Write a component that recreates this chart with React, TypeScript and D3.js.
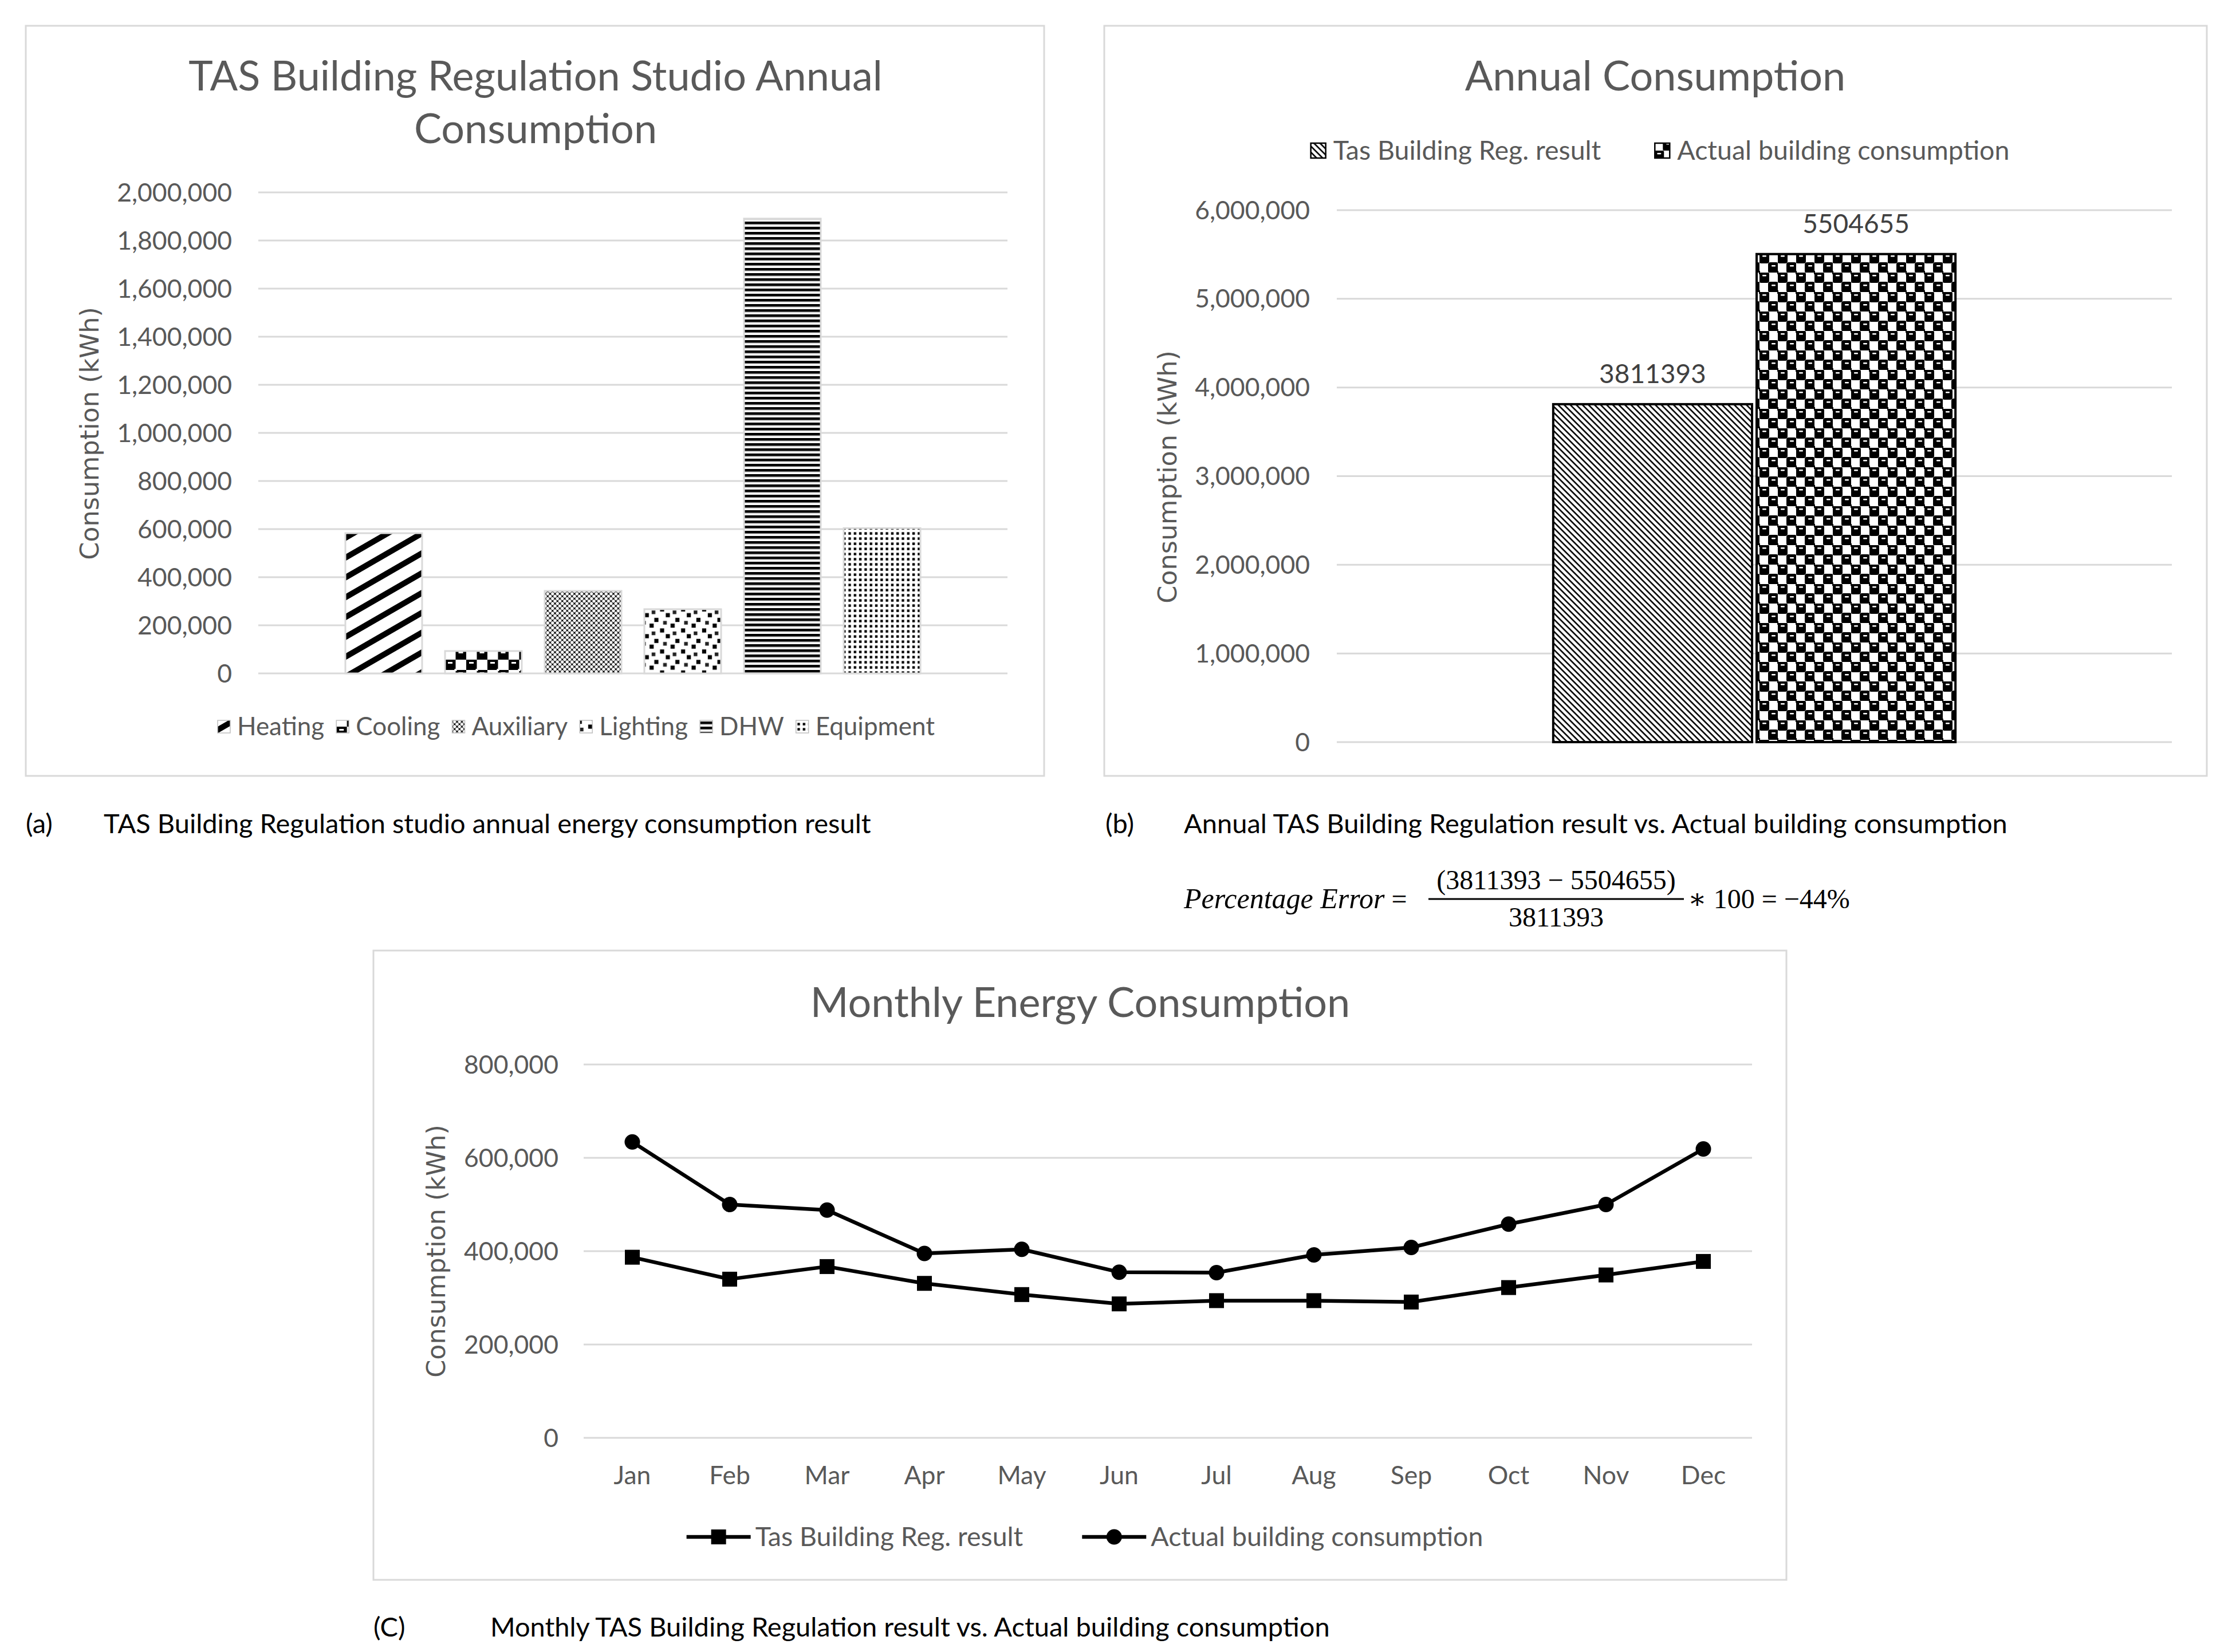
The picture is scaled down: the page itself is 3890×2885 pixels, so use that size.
import React, { useEffect, useRef } from "react";
import * as d3 from "d3";

// ---------- DATA ----------
const endUses = ["Heating", "Cooling", "Auxiliary", "Lighting", "DHW", "Equipment"];
const endUseValues = [583000, 93000, 343000, 267000, 1891000, 604000];
const endUsePatterns = ["pHeat", "pCool", "pAux", "pLight", "pDhw", "pEquip"];
const ticksA = [0, 200000, 400000, 600000, 800000, 1000000, 1200000, 1400000, 1600000, 1800000, 2000000];

const annualSeries = ["Tas Building Reg. result", "Actual building consumption"];
const annualValues = [3811393, 5504655];
const annualPatterns = ["pTas", "pActual"];
const ticksB = [0, 1000000, 2000000, 3000000, 4000000, 5000000, 6000000];

const months = ["Jan", "Feb", "Mar", "Apr", "May", "Jun", "Jul", "Aug", "Sep", "Oct", "Nov", "Dec"];
const tasMonthly = [387000, 340000, 367000, 331000, 307000, 287000, 294000, 294000, 291000, 322000, 349000, 378000];
const actualMonthly = [634000, 500000, 488000, 395000, 404000, 355000, 354000, 392000, 408000, 458000, 500000, 619000];
const ticksC = [0, 200000, 400000, 600000, 800000];

// ---------- STYLE ----------
const W = 3890;
const H = 2885;
const FONT = "Lato, 'Open Sans', sans-serif";
const AXT_FONT = "'DejaVu Sans', Verdana, sans-serif";
const SERIF = "'Liberation Serif', 'DejaVu Serif', serif";
const GRAY = "#595959";
const GRID = "#d9d9d9";
const TITLE_SIZE = 72;
const TICK_SIZE = 44.5;
const AXT_SIZE = 44.5;
const CAP_SIZE = 47;
const fmt = d3.format(",");

function Patterns() {
  const lightBlack: [number, number][] = [[8.3, 18.3], [0, 28.3], [36.7, 28.3], [18.3, 0], [18.3, 36.7], [28.3, 10]];
  const lightGray: [number, number][] = [[23.3, 23.3], [3.3, 5]];
  return (
    <defs>
      <pattern id="pHeat" patternUnits="userSpaceOnUse" width={30} height={30} patternTransform="rotate(-30)">
        <rect width={30} height={30} fill="#fff" />
        <rect width={30} height={10} fill="#000" />
      </pattern>
      <pattern id="pCool" patternUnits="userSpaceOnUse" width={37} height={36}>
        <rect width={37} height={36} fill="#fff" />
        <rect x={0} y={0} width={18.5} height={18} fill="#000" />
        <rect x={18.5} y={18} width={18.5} height={18} fill="#000" />
        <rect x={5} y={4} width={8} height={3} fill="#fff" />
        <rect x={23.5} y={22} width={8} height={3} fill="#fff" />
        <rect x={16.5} y={16} width={4} height={4} fill="#fff" />
      </pattern>
      <pattern id="pAux" patternUnits="userSpaceOnUse" width={8.5} height={8.5}>
        <rect width={8.5} height={8.5} fill="#fff" />
        <path d="M0,0L8.5,8.5M8.5,0L0,8.5" stroke="#555" strokeWidth={1.2} />
        {[[0, 0], [8.5, 0], [0, 8.5], [8.5, 8.5], [4.25, 4.25]].map(([x, y], i) => (
          <rect key={i} x={x - 1.4} y={y - 1.4} width={2.8} height={2.8} fill="#000" />
        ))}
      </pattern>
      <pattern id="pLight" patternUnits="userSpaceOnUse" width={36.7} height={36.7}>
        <rect width={36.7} height={36.7} fill="#fff" />
        {lightBlack.map(([x, y], i) => (
          <rect key={"b" + i} x={x - 3.6} y={y - 3.6} width={7.2} height={7.2} fill="#000" />
        ))}
        {lightGray.map(([x, y], i) => (
          <rect key={"g" + i} x={x - 3.2} y={y - 3.2} width={6.4} height={6.4} fill="#222" />
        ))}
      </pattern>
      <pattern id="pDhw" patternUnits="userSpaceOnUse" width={10} height={9}>
        <rect width={10} height={9} fill="#fff" />
        <rect y={0} width={10} height={4.6} fill="#000" />
        <rect y={4.6} width={10} height={0.8} fill="#888" />
      </pattern>
      <pattern id="pEquip" patternUnits="userSpaceOnUse" width={9.3} height={9}>
        <rect width={9.3} height={9} fill="#fff" />
        <rect x={2.6} y={2.4} width={4.4} height={4.4} fill="#000" />
      </pattern>
      <pattern id="pTas" patternUnits="userSpaceOnUse" width={7.5} height={7.5} patternTransform="rotate(45)">
        <rect width={7.5} height={7.5} fill="#fff" />
        <rect width={7.5} height={2.6} fill="#000" />
      </pattern>
      <pattern id="pActual" patternUnits="userSpaceOnUse" width={32} height={34}>
        <rect width={32} height={34} fill="#fff" />
        <rect x={-1} y={-1} width={18} height={19} rx={4} fill="#000" />
        <rect x={15} y={16} width={18} height={19} rx={4} fill="#000" />
        <rect x={31} y={-1} width={4} height={4} fill="#000" />
        <rect x={-3} y={31} width={4} height={4} fill="#000" />
        <rect x={5} y={4} width={7} height={2.6} rx={1} fill="#fff" />
        <rect x={21} y={21} width={7} height={2.6} rx={1} fill="#fff" />
      </pattern>
    </defs>
  );
}

type LegendOpts = {
  cx: number;
  cy: number;
  keyW: number;
  gap: number;
  itemGap: number;
  fontSize: number;
  key: (g: any, d: any, i: number) => void;
};

function layoutLegend(g: any, data: any[], o: LegendOpts) {
  g.selectAll("*").remove();
  const items = g.selectAll("g.item").data(data).join("g").attr("class", "item");
  items.each(function (this: any, d: any, i: number) {
    const s = d3.select(this);
    o.key(s, d, i);
    s.append("text")
      .attr("x", o.keyW + o.gap)
      .attr("y", 0)
      .attr("dy", "0.35em")
      .attr("font-family", FONT)
      .attr("font-size", o.fontSize)
      .attr("fill", GRAY)
      .text(d.name);
  });
  const widths = items.nodes().map((n: any) => (n.querySelector("text") as SVGTextElement).getComputedTextLength() + o.keyW + o.gap);
  const total = d3.sum(widths) + o.itemGap * (data.length - 1);
  let x = o.cx - total / 2;
  const pos = widths.map((w: number) => {
    const p = x;
    x += w + o.itemGap;
    return p;
  });
  items.attr("transform", (_d: any, i: number) => `translate(${pos[i]},${o.cy})`);
}

export default function App() {
  const legA = useRef<SVGGElement>(null);
  const legB = useRef<SVGGElement>(null);
  const legC = useRef<SVGGElement>(null);

  // ---- Panel A scales ----
  const xA0 = d3.scaleBand<string>().domain(["annual"]).range([451, 1759]).paddingInner(0).paddingOuter(0.126);
  const xA1 = d3.scaleBand<string>().domain(endUses).range([0, xA0.bandwidth()]).paddingInner(0.23).paddingOuter(0.117);
  const yA = d3.scaleLinear().domain([0, 2000000]).range([1176, 336]);

  // ---- Panel B scales ----
  const xB0 = d3.scaleBand<string>().domain(["annual"]).range([2334, 3792]).paddingInner(0).paddingOuter(0.538);
  const xB1 = d3.scaleBand<string>().domain(annualSeries).range([0, xB0.bandwidth()]).paddingInner(0.0225);
  const yB = d3.scaleLinear().domain([0, 6000000]).range([1296, 367]);

  // ---- Panel C scales ----
  const xC = d3.scalePoint<string>().domain(months).range([1019, 3059]).padding(0.5);
  const yC = d3.scaleLinear().domain([0, 800000]).range([2511, 1859]);
  const lineGen = d3
    .line<number>()
    .x((_d, i) => xC(months[i]) as number)
    .y((d) => yC(d));

  useEffect(() => {
    layoutLegend(
      d3.select(legA.current),
      endUses.map((name, i) => ({ name, p: endUsePatterns[i] })),
      {
        cx: 1006,
        cy: 1269,
        keyW: 22,
        gap: 12,
        itemGap: 21,
        fontSize: 44,
        key: (s, d) => {
          s.append("rect").attr("x", 0).attr("y", -11).attr("width", 22).attr("height", 22)
            .attr("fill", `url(#${d.p})`).attr("stroke", "#bfbfbf").attr("stroke-width", 1.5);
        },
      }
    );
    layoutLegend(
      d3.select(legB.current),
      annualSeries.map((name, i) => ({ name, p: annualPatterns[i] })),
      {
        cx: 2898,
        cy: 263,
        keyW: 28,
        gap: 12,
        itemGap: 93,
        fontSize: 46.5,
        key: (s, d) => {
          s.append("rect").attr("x", 1).attr("y", -13).attr("width", 26).attr("height", 26)
            .attr("fill", `url(#${d.p})`).attr("stroke", "#000").attr("stroke-width", 2.5);
        },
      }
    );
    layoutLegend(
      d3.select(legC.current),
      annualSeries.map((name, i) => ({ name, m: i === 0 ? "square" : "circle" })),
      {
        cx: 1894,
        cy: 2684,
        keyW: 112,
        gap: 8,
        itemGap: 103,
        fontSize: 46.5,
        key: (s, d) => {
          s.append("line").attr("x1", 0).attr("x2", 112).attr("y1", 0).attr("y2", 0)
            .attr("stroke", "#000").attr("stroke-width", 6.5);
          if (d.m === "square") {
            s.append("rect").attr("x", 43).attr("y", -13).attr("width", 26).attr("height", 26).attr("fill", "#000");
          } else {
            s.append("circle").attr("cx", 56).attr("cy", 0).attr("r", 13.5).attr("fill", "#000");
          }
        },
      }
    );
  }, []);

  const textGray = { fontFamily: FONT, fill: GRAY } as const;

  return (
    <svg
      width={W}
      height={H}
      viewBox={`0 0 ${W} ${H}`}
      style={{ position: "absolute", left: 0, top: 0, display: "block", background: "#fff" }}
    >
      <Patterns />
      <rect width={W} height={H} fill="#fff" />

      {/* ================= Panel A ================= */}
      <rect x={45} y={45} width={1778} height={1310} fill="#fff" stroke={GRID} strokeWidth={3} />
      <text x={935} y={133} dy="0.35em" textAnchor="middle" fontSize={TITLE_SIZE} {...textGray}>
        TAS Building Regulation Studio Annual
      </text>
      <text x={935} y={225} dy="0.35em" textAnchor="middle" fontSize={TITLE_SIZE} {...textGray}>
        Consumption
      </text>
      {ticksA.map((t) => (
        <g key={t}>
          <line x1={451} x2={1759} y1={yA(t)} y2={yA(t)} stroke={GRID} strokeWidth={3} />
          <text x={405} y={yA(t)} dy="0.35em" textAnchor="end" fontSize={TICK_SIZE} {...textGray}>
            {fmt(t)}
          </text>
        </g>
      ))}
      <text
        transform="translate(156,757) rotate(-90)"
        dy="0.35em"
        textAnchor="middle"
        fontSize={AXT_SIZE}
        fontFamily={AXT_FONT}
        fill={GRAY}
      >
        Consumption (kWh)
      </text>
      {endUses.map((name, i) => (
        <rect
          key={name}
          x={(xA0("annual") as number) + (xA1(name) as number)}
          y={yA(endUseValues[i])}
          width={xA1.bandwidth()}
          height={yA(0) - yA(endUseValues[i])}
          fill={`url(#${endUsePatterns[i]})`}
          stroke={GRID}
          strokeWidth={3}
        />
      ))}
      <g ref={legA} />

      {/* ================= Panel B ================= */}
      <rect x={1928} y={45} width={1925} height={1310} fill="#fff" stroke={GRID} strokeWidth={3} />
      <text x={2890} y={133} dy="0.35em" textAnchor="middle" fontSize={TITLE_SIZE} {...textGray}>
        Annual Consumption
      </text>
      {ticksB.map((t) => (
        <g key={t}>
          <line x1={2334} x2={3792} y1={yB(t)} y2={yB(t)} stroke={GRID} strokeWidth={3} />
          <text x={2287} y={yB(t)} dy="0.35em" textAnchor="end" fontSize={TICK_SIZE} {...textGray}>
            {fmt(t)}
          </text>
        </g>
      ))}
      <text
        transform="translate(2038,833) rotate(-90)"
        dy="0.35em"
        textAnchor="middle"
        fontSize={AXT_SIZE}
        fontFamily={AXT_FONT}
        fill={GRAY}
      >
        Consumption (kWh)
      </text>
      {annualSeries.map((name, i) => {
        const x = (xB0("annual") as number) + (xB1(name) as number);
        return (
          <g key={name}>
            <rect
              x={x}
              y={yB(annualValues[i])}
              width={xB1.bandwidth()}
              height={yB(0) - yB(annualValues[i])}
              fill={`url(#${annualPatterns[i]})`}
              stroke="#000"
              strokeWidth={4}
            />
            <text
              x={x + xB1.bandwidth() / 2}
              y={yB(annualValues[i]) - 53}
              dy="0.35em"
              textAnchor="middle"
              fontSize={46}
              fontFamily={FONT}
              fill="#404040"
            >
              {String(annualValues[i])}
            </text>
          </g>
        );
      })}
      <g ref={legB} />

      {/* ================= Captions & formula ================= */}
      <text x={45} y={1455} fontSize={CAP_SIZE} fontFamily={FONT} fill="#000">(a)</text>
      <text x={181} y={1455} fontSize={CAP_SIZE} fontFamily={FONT} fill="#000">
        TAS Building Regulation studio annual energy consumption result
      </text>
      <text x={1930} y={1455} fontSize={CAP_SIZE} fontFamily={FONT} fill="#000">(b)</text>
      <text x={2067} y={1455} fontSize={CAP_SIZE} fontFamily={FONT} fill="#000">
        Annual TAS Building Regulation result vs. Actual building consumption
      </text>

      <g fontFamily={SERIF} fontSize={48} fill="#000">
        <text x={2067} y={1586}>
          <tspan fontStyle="italic" fontSize={50}>Percentage Error</tspan>
          <tspan> = </tspan>
        </text>
        <text x={2717} y={1553} textAnchor="middle">
          {`(${annualValues[0]} \u2212 ${annualValues[1]})`}
        </text>
        <line x1={2494} x2={2940} y1={1570} y2={1570} stroke="#000" strokeWidth={3} />
        <text x={2717} y={1618} textAnchor="middle">
          {String(annualValues[0])}
        </text>
        <text x={2947} y={1586}>
          {`\u2217 100 = \u2212${Math.round(((annualValues[1] - annualValues[0]) / annualValues[0]) * 100)}%`}
        </text>
      </g>

      {/* ================= Panel C ================= */}
      <rect x={652} y={1660} width={2467} height={1099} fill="#fff" stroke={GRID} strokeWidth={3} />
      <text x={1886} y={1751} dy="0.35em" textAnchor="middle" fontSize={TITLE_SIZE} {...textGray}>
        Monthly Energy Consumption
      </text>
      {ticksC.map((t) => (
        <g key={t}>
          <line x1={1019} x2={3059} y1={yC(t)} y2={yC(t)} stroke={GRID} strokeWidth={3} />
          <text x={975} y={yC(t)} dy="0.35em" textAnchor="end" fontSize={TICK_SIZE} {...textGray}>
            {fmt(t)}
          </text>
        </g>
      ))}
      {months.map((m) => (
        <text key={m} x={xC(m)} y={2576} dy="0.35em" textAnchor="middle" fontSize={TICK_SIZE} {...textGray}>
          {m}
        </text>
      ))}
      <text
        transform="translate(761,2185) rotate(-90)"
        dy="0.35em"
        textAnchor="middle"
        fontSize={AXT_SIZE}
        fontFamily={AXT_FONT}
        fill={GRAY}
      >
        Consumption (kWh)
      </text>
      <path d={lineGen(tasMonthly) || ""} fill="none" stroke="#000" strokeWidth={6.5} strokeLinejoin="round" />
      <path d={lineGen(actualMonthly) || ""} fill="none" stroke="#000" strokeWidth={6.5} strokeLinejoin="round" />
      {tasMonthly.map((v, i) => (
        <rect key={"t" + i} x={(xC(months[i]) as number) - 13} y={yC(v) - 13} width={26} height={26} fill="#000" />
      ))}
      {actualMonthly.map((v, i) => (
        <circle key={"a" + i} cx={xC(months[i]) as number} cy={yC(v)} r={13.5} fill="#000" />
      ))}
      <g ref={legC} />

      <text x={652} y={2858} fontSize={CAP_SIZE} fontFamily={FONT} fill="#000">(C)</text>
      <text x={856} y={2858} fontSize={CAP_SIZE} fontFamily={FONT} fill="#000">
        Monthly TAS Building Regulation result vs. Actual building consumption
      </text>
    </svg>
  );
}
